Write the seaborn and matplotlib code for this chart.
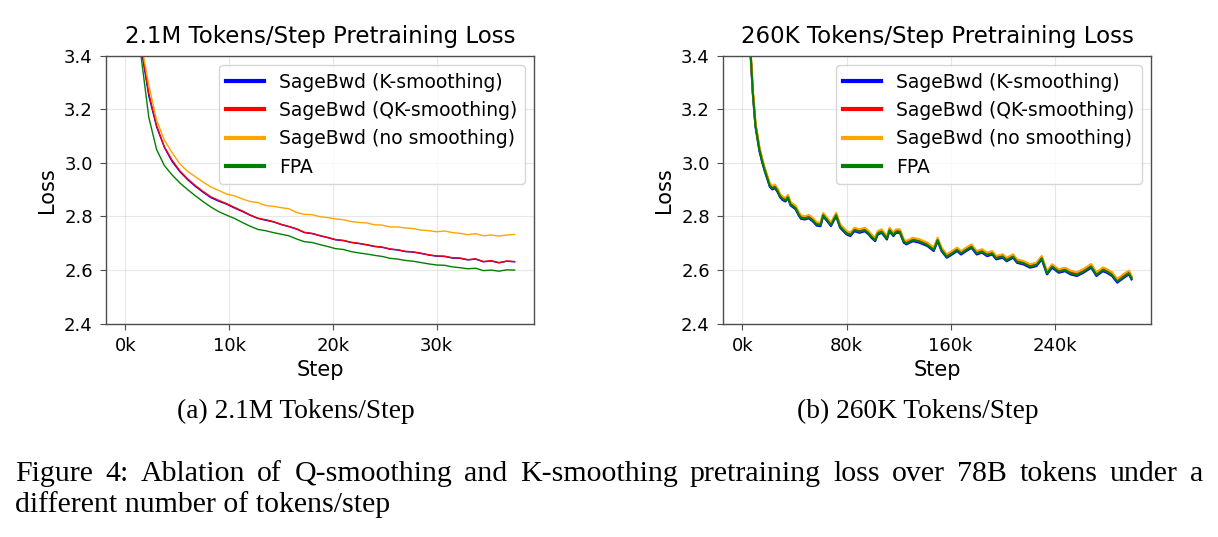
import numpy as np
import pandas as pd
import matplotlib
matplotlib.use('Agg')
import matplotlib.pyplot as plt
import seaborn as sns

# ---- data ----
series_names = ['SageBwd (K-smoothing)', 'SageBwd (QK-smoothing)', 'SageBwd (no smoothing)', 'FPA']
series_colors = ['blue', 'red', 'orange', 'green']

# (a) 2.1M tokens/step, step in thousands
steps_a = [0, 0.75, 1.5, 2.25, 3.0, 3.75, 4.5, 5.25, 6.0, 6.75, 7.5, 8.25, 9.0, 9.75, 10.5, 11.25,
           12.0, 12.75, 13.5, 14.25, 15.0, 15.75, 16.5, 17.25, 18.0, 18.75, 19.5, 20.25, 21.0, 21.75,
           22.5, 23.25, 24.0, 24.75, 25.5, 26.25, 27.0, 27.75, 28.5, 29.25, 30.0, 30.75, 31.5, 32.25,
           33.0, 33.75, 34.5, 35.25, 36.0, 36.75, 37.5]
k_smooth_a = [5.2, 4.2, 3.43, 3.25, 3.135, 3.058, 3.005, 2.967, 2.937, 2.912, 2.890, 2.870, 2.857, 2.846,
              2.832, 2.819, 2.805, 2.793, 2.786, 2.780, 2.770, 2.762, 2.753, 2.740, 2.736, 2.728, 2.721,
              2.713, 2.710, 2.703, 2.699, 2.694, 2.688, 2.685, 2.678, 2.675, 2.669, 2.667, 2.662, 2.656,
              2.652, 2.651, 2.645, 2.644, 2.638, 2.641, 2.631, 2.634, 2.627, 2.633, 2.631]
qk_smooth_a = [5.2, 4.2, 3.44, 3.26, 3.14, 3.06, 3.01, 2.97, 2.94, 2.915, 2.893, 2.873, 2.860, 2.848,
               2.834, 2.821, 2.806, 2.794, 2.788, 2.781, 2.771, 2.763, 2.754, 2.741, 2.737, 2.729, 2.722,
               2.714, 2.711, 2.704, 2.700, 2.695, 2.689, 2.686, 2.679, 2.676, 2.670, 2.668, 2.663, 2.657,
               2.653, 2.652, 2.646, 2.645, 2.639, 2.642, 2.632, 2.635, 2.628, 2.634, 2.632]
no_smooth_a = [5.2, 4.2, 3.45, 3.29, 3.16, 3.085, 3.038, 2.996, 2.968, 2.948, 2.928, 2.910, 2.897, 2.884,
               2.877, 2.866, 2.856, 2.852, 2.841, 2.838, 2.833, 2.829, 2.815, 2.808, 2.807, 2.799, 2.796,
               2.791, 2.788, 2.781, 2.778, 2.776, 2.769, 2.768, 2.761, 2.761, 2.757, 2.755, 2.749, 2.747,
               2.743, 2.746, 2.740, 2.737, 2.732, 2.736, 2.728, 2.731, 2.727, 2.731, 2.733]
fpa_a = [5.1, 4.1, 3.40, 3.17, 3.05, 2.99, 2.955, 2.925, 2.900, 2.877, 2.855, 2.835, 2.818, 2.805,
         2.793, 2.778, 2.764, 2.752, 2.747, 2.740, 2.734, 2.728, 2.716, 2.706, 2.703, 2.695, 2.688,
         2.680, 2.677, 2.669, 2.664, 2.660, 2.655, 2.651, 2.644, 2.641, 2.636, 2.633, 2.628, 2.623,
         2.619, 2.618, 2.612, 2.609, 2.605, 2.607, 2.598, 2.600, 2.596, 2.601, 2.600]

# (b) 260K tokens/step, step in thousands
steps_b = [0, 2, 4, 6, 8, 10, 13, 15, 17, 19, 21, 23, 25, 27, 29, 31, 33, 35, 37, 39, 41, 43, 45, 48,
           51, 54, 57, 60, 62, 65, 68, 72, 75, 80, 83, 86, 90, 94, 97, 99, 102, 104, 107, 111, 113, 116,
           118, 121, 124, 126, 131, 136, 142, 147, 150, 153, 157, 161, 165, 168, 172, 176, 180, 184, 188,
           192, 195, 200, 203, 208, 211, 216, 221, 226, 230, 234, 238, 243, 248, 252, 257, 262, 268, 272,
           277, 280, 284, 288, 293, 297, 299]
k_smooth_b = [4.59, 4.04, 3.67, 3.425, 3.255, 3.135,
              3.045, 3.005, 2.971, 2.941, 2.911, 2.901, 2.906, 2.891, 2.871, 2.861,
              2.856, 2.868, 2.841, 2.834, 2.826, 2.806, 2.791, 2.789, 2.793, 2.782,
              2.766, 2.764, 2.801, 2.783, 2.764, 2.801, 2.758, 2.733, 2.727, 2.745,
              2.739, 2.745, 2.733, 2.721, 2.708, 2.733, 2.739, 2.714, 2.745, 2.727,
              2.739, 2.739, 2.702, 2.696, 2.708, 2.702, 2.690, 2.671, 2.708, 2.671,
              2.646, 2.658, 2.671, 2.658, 2.671, 2.683, 2.658, 2.665, 2.652, 2.658,
              2.640, 2.646, 2.633, 2.646, 2.627, 2.621, 2.609, 2.615, 2.640, 2.584,
              2.609, 2.590, 2.596, 2.584, 2.578, 2.590, 2.609, 2.578, 2.596, 2.590,
              2.578, 2.553, 2.571, 2.584, 2.565]
qk_smooth_b = [4.61, 4.06, 3.69, 3.435, 3.265, 3.145,
               3.055, 3.015, 2.979, 2.949, 2.919, 2.909, 2.914, 2.899, 2.879, 2.869,
               2.864, 2.876, 2.849, 2.842, 2.834, 2.814, 2.799, 2.797, 2.801, 2.790,
               2.774, 2.772, 2.809, 2.791, 2.772, 2.809, 2.766, 2.741, 2.735, 2.753,
               2.747, 2.753, 2.741, 2.729, 2.716, 2.741, 2.747, 2.722, 2.753, 2.735,
               2.747, 2.747, 2.710, 2.704, 2.716, 2.710, 2.698, 2.679, 2.716, 2.679,
               2.654, 2.666, 2.679, 2.666, 2.679, 2.691, 2.666, 2.673, 2.660, 2.666,
               2.648, 2.654, 2.641, 2.654, 2.635, 2.629, 2.617, 2.623, 2.648, 2.592,
               2.617, 2.598, 2.604, 2.592, 2.587, 2.599, 2.618, 2.587, 2.605, 2.599,
               2.587, 2.562, 2.580, 2.593, 2.574]
no_smooth_b = [4.62, 4.07, 3.70, 3.44, 3.27, 3.15,
               3.060, 3.020, 2.984, 2.954, 2.924, 2.914, 2.919, 2.904, 2.884, 2.874,
               2.869, 2.881, 2.854, 2.847, 2.839, 2.819, 2.804, 2.801, 2.806, 2.795,
               2.779, 2.777, 2.813, 2.796, 2.777, 2.814, 2.771, 2.746, 2.740, 2.758,
               2.752, 2.758, 2.746, 2.734, 2.721, 2.746, 2.752, 2.727, 2.758, 2.740,
               2.752, 2.752, 2.715, 2.709, 2.721, 2.715, 2.703, 2.684, 2.721, 2.684,
               2.659, 2.671, 2.684, 2.671, 2.684, 2.696, 2.671, 2.678, 2.665, 2.671,
               2.653, 2.659, 2.646, 2.659, 2.640, 2.634, 2.622, 2.628, 2.653, 2.597,
               2.622, 2.603, 2.609, 2.598, 2.592, 2.604, 2.623, 2.592, 2.610, 2.604,
               2.592, 2.567, 2.586, 2.598, 2.579]
fpa_b = [4.60, 4.05, 3.68, 3.43, 3.26, 3.14,
         3.05, 3.01, 2.975, 2.945, 2.915, 2.905, 2.910, 2.895, 2.875, 2.865,
         2.860, 2.872, 2.845, 2.838, 2.830, 2.810, 2.795, 2.793, 2.797, 2.786,
         2.770, 2.768, 2.805, 2.787, 2.768, 2.805, 2.762, 2.737, 2.731, 2.749,
         2.743, 2.749, 2.737, 2.725, 2.712, 2.737, 2.743, 2.718, 2.749, 2.731,
         2.743, 2.743, 2.706, 2.700, 2.712, 2.706, 2.694, 2.675, 2.712, 2.675,
         2.650, 2.662, 2.675, 2.662, 2.675, 2.687, 2.662, 2.669, 2.656, 2.662,
         2.644, 2.650, 2.637, 2.650, 2.631, 2.625, 2.613, 2.619, 2.644, 2.588,
         2.613, 2.594, 2.600, 2.588, 2.582, 2.594, 2.613, 2.582, 2.600, 2.594,
         2.582, 2.557, 2.575, 2.588, 2.569]

titles = ['2.1M Tokens/Step Pretraining Loss', '260K Tokens/Step Pretraining Loss']
xticks_a = [0, 10, 20, 30]
xticks_b = [0, 80, 160, 240]
yticks = [2.4, 2.6, 2.8, 3.0, 3.2, 3.4]
subcaptions = ['(a) 2.1M Tokens/Step', '(b) 260K Tokens/Step']
caption_1 = 'Figure 4:  Ablation of Q-smoothing and K-smoothing pretraining loss over 78B tokens under a'
caption_2 = 'different number of tokens/step'

# ---- figure ----
plt.rcParams['font.family'] = ['DejaVu Sans']
W, H = 1218, 537
fig = plt.figure(figsize=(W / 100, H / 100), dpi=100)
ax_a = fig.add_axes([106 / W, 1 - 323.7 / H, 428 / W, 268 / H])
ax_b = fig.add_axes([723 / W, 1 - 323.7 / H, 428 / W, 268 / H])

panels = [
    (ax_a, steps_a, [k_smooth_a, qk_smooth_a, no_smooth_a, fpa_a], xticks_a, 1.0, titles[0]),
    (ax_b, steps_b, [k_smooth_b, qk_smooth_b, no_smooth_b, fpa_b], xticks_b, 1.5, titles[1]),
]

for ax, steps, ys, xt, lw, title in panels:
    for name, color, y in zip(series_names, series_colors, ys):
        sns.lineplot(x=steps, y=y, color=color, lw=lw, label=name, ax=ax)
    ax.set_ylim(2.4, 3.4)
    ax.set_xticks(xt)
    ax.set_xticklabels([f'{t}k' for t in xt], fontsize=13)
    ax.set_yticks(yticks)
    ax.set_yticklabels([f'{t:.1f}' for t in yticks], fontsize=13)
    ax.grid(True, color='#b0b0b0', alpha=0.3, lw=0.8)
    ax.set_axisbelow(True)
    for sp in ax.spines.values():
        sp.set_color('0.3')
        sp.set_linewidth(1.0)
    ax.tick_params(color='0.3', length=4.5, pad=5)
    ax.set_xlabel('Step', fontsize=15, labelpad=4)
    ax.set_ylabel('Loss', fontsize=15, labelpad=5)
    ax.set_title(title, fontsize=16.5, pad=9)
    leg = ax.legend(loc='upper right', fontsize=13.5, framealpha=0.8)
    for line in leg.get_lines():
        line.set_linewidth(3)

serif = 'Liberation Serif'
for x, s in zip([296 / W, 918 / W], subcaptions):
    fig.text(x, 1 - 411 / H, s, ha='center', va='center', fontsize=19.7, family=serif)

# first caption line is justified across the full text width
words = caption_1.split()
word_texts = [fig.text(0, 1 - 474 / H, w, ha='left', va='center', fontsize=21.5, family=serif)
              for w in words]
fig.canvas.draw()
renderer = fig.canvas.get_renderer()
widths = [t.get_window_extent(renderer).width for t in word_texts]
gap = (1188 - sum(widths)) / (len(words) - 1)
x = 15.0
for t, w in zip(word_texts, widths):
    t.set_x(x / W)
    x += w + gap
fig.text(15 / W, 1 - 505 / H, caption_2, ha='left', va='center', fontsize=21.5, family=serif)

fig.savefig('out.png', dpi=100)
